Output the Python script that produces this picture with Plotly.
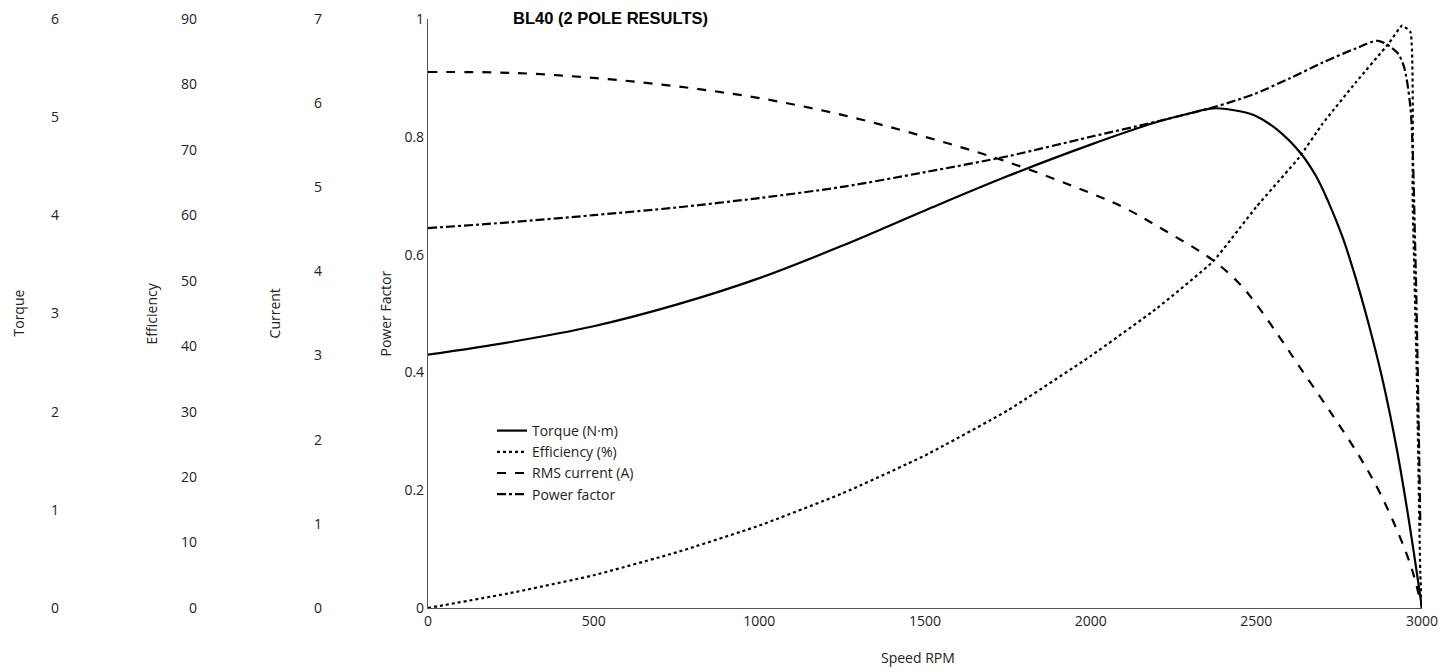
import plotly.graph_objects as go

# ---- data ----
rpm_torque = [0, 250, 500, 750, 1000, 1250, 1500, 1750, 2000, 2200, 2300, 2370, 2450, 2500, 2560, 2632, 2680, 2717, 2760, 2800, 2840, 2882, 2925, 2960, 3000]
torque_nm = [2.58, 2.71, 2.87, 3.09, 3.36, 3.69, 4.05, 4.40, 4.72, 4.95, 5.04, 5.09, 5.06, 5.01, 4.88, 4.64, 4.40, 4.14, 3.78, 3.36, 2.88, 2.31, 1.60, 0.90, 0]

rpm_eff = [0, 250, 500, 750, 1000, 1250, 1500, 1750, 2000, 2200, 2370, 2500, 2630, 2700, 2800, 2900, 2940, 2965, 2972, 2985, 2995, 3000]
efficiency_pct = [0, 2.3, 5.0, 8.5, 12.6, 17.5, 23.3, 30.2, 38.5, 45.8, 53.0, 61.3, 68.9, 74.0, 80.3, 86.3, 89.0, 88.0, 62.0, 34.0, 5.0, 0]

rpm_cur = [0, 250, 500, 750, 1000, 1250, 1500, 1750, 2000, 2100, 2200, 2370, 2450, 2500, 2570, 2630, 2720, 2813, 2874, 2930, 2970, 3000]
current_a = [6.37, 6.36, 6.30, 6.20, 6.06, 5.86, 5.60, 5.30, 4.93, 4.76, 4.54, 4.13, 3.85, 3.61, 3.22, 2.87, 2.35, 1.79, 1.36, 0.875, 0.455, 0]

rpm_pf = [0, 250, 500, 750, 1000, 1250, 1500, 1750, 2000, 2200, 2370, 2450, 2500, 2600, 2700, 2800, 2868, 2925, 2945, 2965, 2980, 2995]
power_factor = [0.645, 0.655, 0.667, 0.680, 0.696, 0.715, 0.740, 0.767, 0.800, 0.826, 0.850, 0.864, 0.874, 0.899, 0.926, 0.950, 0.963, 0.943, 0.920, 0.850, 0.600, 0.140]

x_ticks = [0, 500, 1000, 1500, 2000, 2500, 3000]
title_text = "BL40 (2 POLE RESULTS)"

FONT = "Open Sans"
TXT = "#222222"

fig = go.Figure()
line_w = 2.2
fig.add_trace(go.Scatter(x=rpm_torque, y=torque_nm, name="Torque (N·m)", yaxis="y2",
                         mode="lines", line=dict(color="black", width=line_w, dash="solid", shape="spline", smoothing=1.0)))
fig.add_trace(go.Scatter(x=rpm_eff, y=efficiency_pct, name="Efficiency (%)", yaxis="y3",
                         mode="lines", line=dict(color="black", width=line_w, dash="dot", shape="spline", smoothing=0.4)))
fig.add_trace(go.Scatter(x=rpm_cur, y=current_a, name="RMS current (A)", yaxis="y4",
                         mode="lines", line=dict(color="black", width=line_w, dash="dash", shape="spline", smoothing=1.0)))
fig.add_trace(go.Scatter(x=rpm_pf, y=power_factor, name="Power factor", yaxis="y",
                         mode="lines", line=dict(color="black", width=line_w, dash="dashdot", shape="spline", smoothing=0.8)))

tickfont = dict(family=FONT, size=14, color=TXT)
common = dict(showgrid=False, zeroline=False, ticks="", tickfont=tickfont, automargin=False,
              ticklabeloverflow="allow")

# page body has an 8px margin, so the figure is sized to fill the rest of the window
fig.update_layout(
    width=1448, height=664,
    margin=dict(l=10, r=34, t=11, b=64, autoexpand=False),
    paper_bgcolor="white", plot_bgcolor="white",
    showlegend=True,
    legend=dict(x=0.3376, y=0.3277, xanchor="left", yanchor="top", bgcolor="rgba(0,0,0,0)",
                font=dict(family=FONT, size=14, color=TXT), tracegroupgap=0),
    xaxis=dict(domain=[0.292, 1], range=[0, 3000], tickvals=x_ticks, showline=True,
               linecolor="#555555", linewidth=1.2, **common),
    yaxis=dict(range=[0, 1], dtick=0.2, showline=True, linecolor="#555555", linewidth=1.2,
               tickformat="~g", **common),
    yaxis2=dict(range=[0, 6], dtick=1, overlaying="y", anchor="free", position=0.0292,
                side="left", showline=False, **common),
    yaxis3=dict(range=[0, 90], dtick=10, overlaying="y", anchor="free", position=0.1275,
                side="left", showline=False, **common),
    yaxis4=dict(range=[0, 7], dtick=1, overlaying="y", anchor="free", position=0.2165,
                side="left", showline=False, **common),
)

ann_font = dict(family=FONT, size=14, color=TXT)
for label, xp in [("Torque", 0.0), ("Efficiency", 0.0954), ("Current", 0.183), ("Power Factor", 0.2614)]:
    fig.add_annotation(text=label, x=xp, y=0.5, xref="paper", yref="paper", textangle=-90,
                       showarrow=False, font=ann_font, xanchor="center", yanchor="middle")
fig.add_annotation(text="Speed RPM", x=0.641, y=-0.0832, xref="paper", yref="paper",
                   showarrow=False, font=ann_font, xanchor="center", yanchor="middle")
fig.add_annotation(text="<b>" + title_text + "</b>", x=0.4217, y=1.0017, xref="paper", yref="paper",
                   showarrow=False, xanchor="center", yanchor="middle",
                   font=dict(family="Liberation Sans", size=16.5, color="black"))

fig.write_html("out.html")
